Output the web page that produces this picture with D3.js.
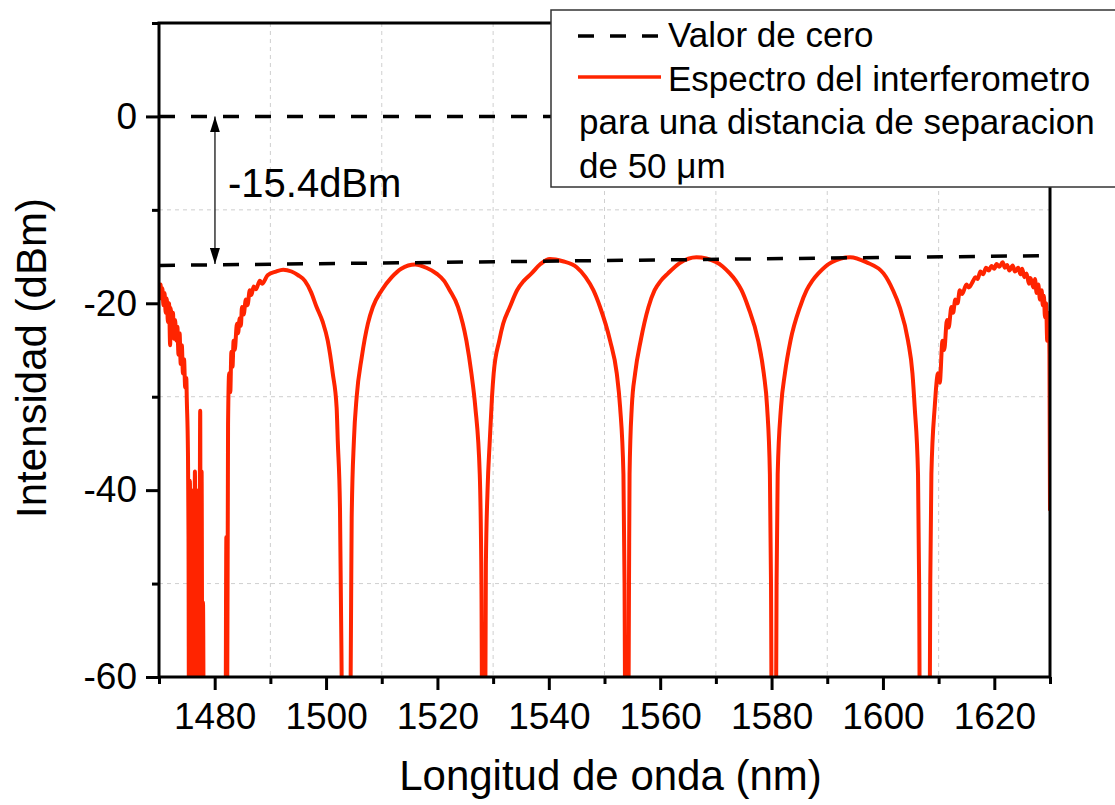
<!DOCTYPE html>
<html>
<head>
  <meta charset="utf-8">
  <style>
    body { margin: 0; background: #fff; }
    text { font-family: "Liberation Sans", Arial, sans-serif; fill: #000; }
  </style>
</head>
<body>
<svg width="1115" height="805"></svg>
<script src="https://d3js.org/d3.v7.min.js"></script>
<script>

// spectrum as [nm, dBm]; values below -60 are clipped by the frame
var spectrum = [
  [1470.0,-17.8],[1470.1,-19.0],[1470.3,-18.0],[1470.4,-19.5],[1470.6,-18.4],[1470.8,-20.2],
  [1471.0,-18.9],[1471.2,-21.0],[1471.4,-19.5],[1471.6,-22.0],[1471.8,-20.0],[1472.0,-24.5],
  [1472.1,-20.5],[1472.3,-23.0],[1472.5,-21.0],[1472.7,-23.8],[1472.9,-21.8],[1473.1,-24.0],
  [1473.3,-22.5],[1473.5,-25.5],[1473.7,-23.2],[1473.9,-26.5],[1474.1,-24.5],[1474.3,-27.5],
  [1474.5,-26.0],[1474.7,-29.0],[1474.9,-28.0],[1475.0,-30.5],[1475.2,-36.0],[1475.3,-45.0],
  [1475.4,-70.0],[1475.55,-39.0],[1475.7,-66.0],[1475.85,-40.0],[1476.0,-70.0],[1476.15,-42.0],
  [1476.3,-68.0],[1476.45,-38.0],[1476.6,-70.0],[1476.75,-40.0],[1476.9,-66.0],[1477.05,-44.0],
  [1477.2,-70.0],[1477.4,-31.5],[1477.5,-70.0],[1477.65,-38.0],[1477.8,-70.0],[1477.9,-52.0],
  [1478.1,-75.0],[1481.9,-75.0],[1482.1,-45.0],[1482.25,-62.0],[1482.4,-33.0],
  // lobe around 1492 nm
  [1482.6,-27.5],[1482.8,-29.5],[1483.0,-25.2],[1483.2,-26.8],[1483.4,-24.0],[1483.6,-25.0],
  [1484.0,-22.2],[1484.2,-23.2],[1484.5,-21.6],[1484.7,-22.4],[1484.9,-20.4],[1485.2,-21.2],
  [1485.6,-19.6],[1485.9,-20.2],[1486.3,-18.6],[1486.6,-19.1],[1487.0,-18.2],[1487.4,-18.5],
  [1488.1,-17.6],[1488.5,-17.9],[1489.5,-17.0],[1491.0,-16.6],[1492.3,-16.4],[1493.8,-16.6],
  [1495.0,-17.0],[1496.2,-17.6],[1497.3,-18.8],[1498.3,-20.4],[1499.4,-22.0],[1500.3,-24.0],
  [1501.2,-27.5],[1501.9,-31.2],[1502.1,-34.7],[1502.5,-41.9],[1502.8,-60.0],[1503.0,-75.0],
  // lobe around 1516 nm
  [1504.2,-75.0],[1504.5,-52.0],[1504.6,-43.0],[1505.0,-34.7],[1505.5,-30.0],[1506.4,-25.8],
  [1507.5,-22.2],[1508.4,-20.4],[1510.0,-18.6],[1511.8,-17.2],[1513.5,-16.3],[1516.0,-15.85],
  [1518.0,-16.2],[1519.9,-16.85],[1521.2,-17.6],[1522.2,-18.6],[1523.7,-20.4],[1525.2,-24.0],
  [1526.1,-27.5],[1526.8,-31.1],[1527.6,-38.3],[1527.9,-50.0],[1528.1,-75.0],
  // lobe around 1540 nm
  [1528.5,-75.0],[1528.7,-48.0],[1529.0,-40.0],[1529.4,-34.7],[1529.8,-30.0],[1530.1,-27.5],
  [1531.1,-24.0],[1531.8,-22.2],[1533.0,-20.4],[1534.3,-18.6],[1535.5,-17.6],[1536.9,-16.8],
  [1538.5,-15.8],[1540.2,-15.25],[1542.5,-15.5],[1545.0,-16.15],[1546.6,-17.2],[1548.0,-18.6],
  [1549.2,-20.4],[1551.0,-24.0],[1552.2,-27.5],[1552.8,-31.1],[1553.4,-38.3],[1553.6,-50.0],
  [1553.8,-75.0],
  // lobe around 1567 nm
  [1554.2,-75.0],[1554.4,-50.0],[1554.5,-38.3],[1554.9,-31.1],[1555.5,-27.5],[1556.5,-24.0],
  [1557.9,-20.4],[1559.0,-18.6],[1560.1,-17.6],[1561.4,-16.8],[1563.5,-15.7],[1566.5,-15.07],
  [1570.1,-15.6],[1572.5,-16.8],[1573.6,-17.6],[1574.6,-18.6],[1575.8,-20.4],[1577.6,-24.0],
  [1578.6,-27.5],[1579.2,-31.1],[1579.7,-38.3],[1579.9,-50.0],[1580.1,-75.0],
  // lobe around 1594 nm
  [1580.7,-75.0],[1580.9,-50.0],[1581.1,-38.3],[1581.7,-31.1],[1582.4,-27.5],[1583.4,-24.0],
  [1585.1,-20.4],[1586.3,-18.6],[1587.3,-17.6],[1588.4,-16.8],[1590.8,-15.6],[1594.1,-15.07],
  [1597.0,-15.6],[1600.1,-16.8],[1601.8,-18.6],[1603.0,-20.4],[1604.5,-24.0],[1605.3,-27.5],
  [1605.7,-31.1],[1606.3,-38.3],[1606.5,-50.0],[1606.7,-75.0],
  // noisy lobe around 1621 nm
  [1608.3,-75.0],[1608.5,-50.0],[1608.7,-38.3],[1609.3,-31.1],[1609.9,-27.5],[1610.2,-28.5],
  [1610.7,-24.0],[1611.0,-25.0],[1611.5,-21.8],[1611.8,-22.6],[1612.3,-20.4],[1612.6,-21.0],
  [1613.0,-19.6],[1613.4,-20.0],[1613.8,-18.6],[1614.2,-19.0],[1615.0,-18.0],[1615.4,-18.3],
  [1616.2,-17.6],[1616.6,-17.2],[1617.0,-17.4],[1617.5,-16.6],[1618.0,-16.9],[1618.5,-16.2],
  [1619.0,-16.5],[1619.5,-16.0],[1620.0,-16.3],[1620.4,-15.8],[1620.9,-16.1],[1621.5,-15.6],
  [1621.9,-16.2],[1622.3,-15.9],[1622.7,-16.5],[1623.3,-15.95],[1623.7,-16.6],[1624.3,-16.2],
  [1624.7,-16.9],[1625.0,-16.3],[1625.4,-17.2],[1625.8,-16.8],[1626.2,-17.9],[1626.5,-17.3],
  [1627.0,-18.3],[1627.3,-17.4],[1627.6,-18.9],[1627.9,-18.0],[1628.2,-19.6],[1628.5,-18.6],
  [1628.7,-20.2],[1628.9,-19.2],[1629.1,-21.5],[1629.3,-20.0],[1629.5,-24.0],[1629.6,-21.0],
  [1629.7,-23.5],[1629.8,-22.0],[1629.9,-25.5],[1630.0,-42.2]
];

// "Valor de cero" reference levels
var zeroX = [1470, 1630];
var zeroY = [0, 0];
var floorY = [-15.95, -14.9];
var gapLabel = "-15.4dBm";

var xMajor = [1480, 1500, 1520, 1540, 1560, 1580, 1600, 1620];
var xMinor = [1470, 1490, 1510, 1530, 1550, 1570, 1590, 1610, 1630];
var yMajor = [-60, -40, -20, 0];
var yMinor = [-50, -30, -10, 10];

var legendLines = ["Valor de cero", "Espectro del interferometro",
                   "para una distancia de separacion", "de 50 \u03bcm"];

var svg = d3.select("svg");
var plotLeft = 159, plotRight = 1050, plotTop = 23, plotBottom = 677;
var red = "#ff2400";

var x = d3.scaleLinear().domain([1470, 1630]).range([plotLeft, plotRight]);
var y = d3.scaleLinear().domain([-60, 10]).range([plotBottom, plotTop]);

var defs = svg.append("defs");
defs.append("clipPath").attr("id", "plot")
  .append("rect").attr("x", plotLeft).attr("y", plotTop)
  .attr("width", plotRight - plotLeft).attr("height", plotBottom - plotTop);

// grid on the minor ticks only
var grid = svg.append("g").attr("stroke", "#cfcfcf").attr("stroke-width", 1)
  .attr("stroke-dasharray", "4,4");
grid.selectAll(".gx").data(xMinor.slice(1, -1)).enter().append("line")
  .attr("x1", function(d) { return x(d); }).attr("x2", function(d) { return x(d); })
  .attr("y1", plotTop).attr("y2", plotBottom);
grid.selectAll(".gy").data(yMinor.slice(0, -1)).enter().append("line")
  .attr("y1", function(d) { return y(d); }).attr("y2", function(d) { return y(d); })
  .attr("x1", plotLeft).attr("x2", plotRight);

// spectrum
var line = d3.line().x(function(d) { return x(d[0]); }).y(function(d) { return y(d[1]); })
  .curve(d3.curveMonotoneX);
svg.append("path").datum(spectrum)
  .attr("clip-path", "url(#plot)")
  .attr("fill", "none").attr("stroke", red).attr("stroke-width", 4)
  .attr("stroke-linejoin", "round")
  .attr("d", line);

// dashed reference lines
var dashes = svg.append("g").attr("fill", "none").attr("stroke", "#000")
  .attr("stroke-width", 3.5).attr("stroke-dasharray", "16,16");
[zeroY, floorY].forEach(function(levels) {
  dashes.append("path")
    .datum(zeroX.map(function(w, i) { return [w, levels[i]]; }))
    .attr("d", d3.line().x(function(d) { return x(d[0]); }).y(function(d) { return y(d[1]); }));
});

// double arrow with the gap value
defs.append("marker").attr("id", "head")
  .attr("viewBox", "0 0 16 10")
  .attr("refX", 16).attr("refY", 5).attr("markerWidth", 16).attr("markerHeight", 10)
  .attr("markerUnits", "userSpaceOnUse").attr("orient", "auto-start-reverse")
  .append("path").attr("d", "M0,0L16,5L0,10Z").attr("fill", "#000");
svg.append("line")
  .attr("x1", x(1480.05)).attr("x2", x(1480.05))
  .attr("y1", y(0)).attr("y2", y(-15.8))
  .attr("stroke", "#000").attr("stroke-width", 1.2)
  .attr("marker-start", "url(#head)").attr("marker-end", "url(#head)");
svg.append("text").attr("x", x(1480.05) + 13).attr("y", y(-8.6))
  .attr("font-size", 40).text(gapLabel);

// axes
function styleAxis(g) {
  g.select(".domain").remove();
  g.selectAll(".tick line").attr("stroke", "#000").attr("stroke-width", 3);
  g.selectAll("text").attr("font-size", 37).attr("fill", "#000")
    .attr("font-family", "'Liberation Sans', Arial, sans-serif");
}
var plain = function(d) { return String(d); };
svg.append("g").attr("transform", "translate(0," + plotBottom + ")")
  .call(d3.axisBottom(x).tickValues(xMinor).tickSize(7).tickFormat(""))
  .call(styleAxis);
svg.append("g").attr("transform", "translate(0," + plotBottom + ")")
  .call(d3.axisBottom(x).tickValues(xMajor).tickSize(13).tickPadding(13).tickFormat(plain))
  .call(styleAxis);
svg.append("g").attr("transform", "translate(" + plotLeft + ",0)")
  .call(d3.axisLeft(y).tickValues(yMinor).tickSize(7).tickFormat(""))
  .call(styleAxis);
svg.append("g").attr("transform", "translate(" + plotLeft + ",0)")
  .call(d3.axisLeft(y).tickValues(yMajor).tickSize(13).tickPadding(9).tickFormat(plain))
  .call(styleAxis);

// frame
svg.append("rect").attr("x", plotLeft).attr("y", plotTop)
  .attr("width", plotRight - plotLeft).attr("height", plotBottom - plotTop)
  .attr("fill", "none").attr("stroke", "#000").attr("stroke-width", 3);

// axis titles
svg.append("text").attr("x", (plotLeft + plotRight) / 2 + 6).attr("y", 790)
  .attr("text-anchor", "middle").attr("font-size", 42).text("Longitud de onda (nm)");
svg.append("text").attr("transform", "translate(46," + 358 + ") rotate(-90)")
  .attr("text-anchor", "middle").attr("font-size", 42).text("Intensidad (dBm)");

// legend
var legend = svg.append("g").attr("transform", "translate(551,10)");
legend.append("rect").attr("width", 600).attr("height", 177)
  .attr("fill", "#fff").attr("stroke", "#333").attr("stroke-width", 1.5);
legend.append("line").attr("x1", 27).attr("x2", 110).attr("y1", 26).attr("y2", 26)
  .attr("stroke", "#000").attr("stroke-width", 3.5).attr("stroke-dasharray", "16,16");
legend.append("line").attr("x1", 27).attr("x2", 110).attr("y1", 67).attr("y2", 67)
  .attr("stroke", red).attr("stroke-width", 3.5);
legend.selectAll(".lt").data(legendLines).enter().append("text")
  .attr("x", function(d, i) { return i < 2 ? 117 : 28; })
  .attr("y", function(d, i) { return 37 + i * 43.5; })
  .attr("font-size", 35)
  .text(function(d) { return d; });

</script>
</body>
</html>
